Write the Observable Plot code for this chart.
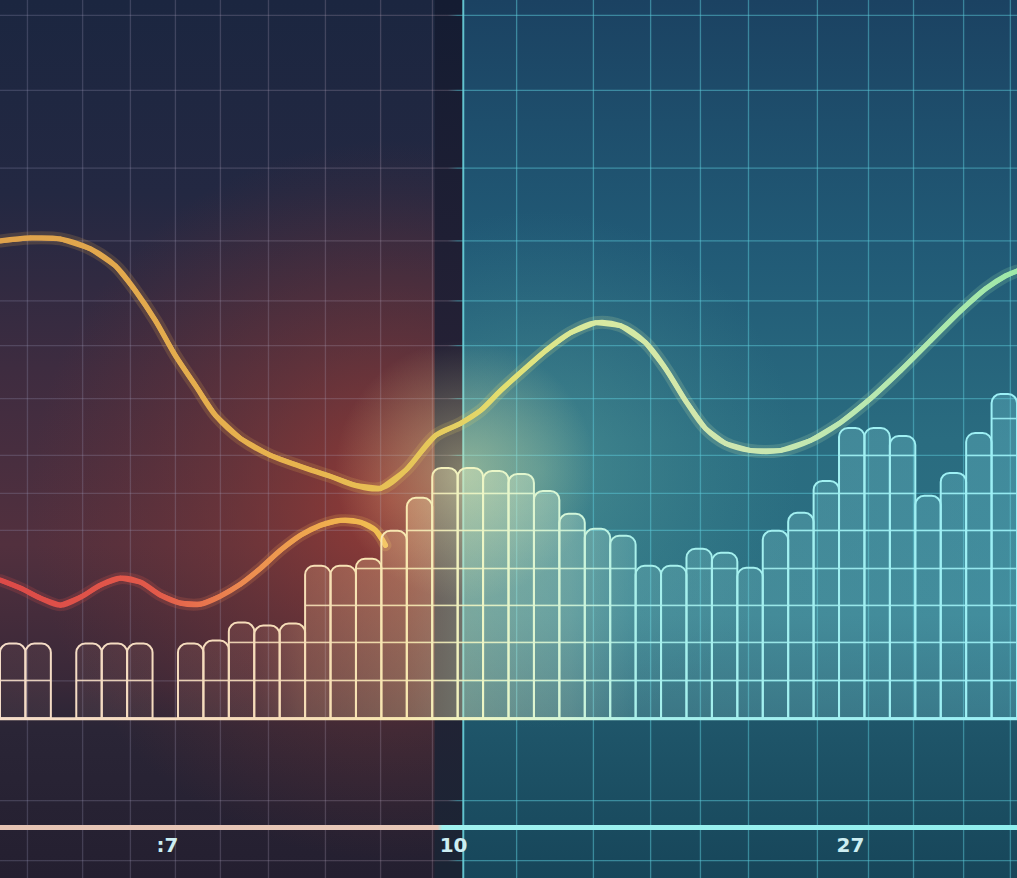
<!DOCTYPE html>
<html>
<head>
<meta charset="utf-8">
<script src="https://cdn.jsdelivr.net/npm/d3@7"></script>
<script src="https://cdn.jsdelivr.net/npm/@observablehq/plot@0.6"></script>
<style>
  html, body { margin: 0; padding: 0; background: #1a2636; overflow: hidden; }
  #chart svg { display: block; }
  g[aria-label="glow-bars"] { filter: drop-shadow(0 0 3px rgba(255,245,215,0.85)); }
  g[aria-label="glow-axis"] { filter: drop-shadow(0 0 4px rgba(160,240,240,0.6)); }
  g[aria-label="glow-labels"] { filter: drop-shadow(0 0 3px rgba(120,240,240,0.7)); }
</style>
</head>
<body>
<div id="chart"></div>
<script>
// ---------- data ----------
// bars: one value per slot (null = empty slot)
const barValues = [7.5, 7.5, null, 7.5, 7.5, 7.5, null, 7.5, 7.8, 9.6,
                   9.3, 9.5, 15.3, 15.3, 16.0, 18.8, 22.1, 25.1, 25.1, 24.8,
                   24.5, 22.8, 20.5, 19.0, 18.3, 15.3, 15.3, 17.0, 16.6, 15.1,
                   18.8, 20.6, 23.8, 29.1, 29.1, 28.3, 22.3, 24.6, 28.6, 32.5];
// upper curve
const upperX = [0, 1.18, 2.36, 3.54, 4.52, 5.31, 6.10, 6.88, 7.67, 8.46, 9.44, 10.62, 11.80, 12.98, 13.96,
                14.95, 15.93, 17.11, 18.09, 18.88, 19.67, 20.45, 21.44, 22.42, 23.40, 24.39, 25.37, 26.16,
                26.94, 27.73, 28.52, 29.50, 30.68, 31.86, 33.04, 34.22, 35.40, 36.58, 37.76, 38.74, 39.53, 40];
const upperY = [47.9, 48.2, 48.1, 47.1, 45.4, 42.9, 39.9, 36.4, 33.4, 30.4, 28.1, 26.4, 25.3, 24.3, 23.4,
                23.1, 24.9, 28.4, 29.6, 30.9, 32.9, 34.7, 36.9, 38.7, 39.7, 39.4, 37.7, 35.1,
                31.9, 29.1, 27.6, 26.9, 26.9, 27.9, 29.7, 32.1, 34.9, 37.9, 40.9, 43.1, 44.4, 44.9];
// lower curve
const lowerX = [0, 0.79, 1.57, 2.36, 3.15, 3.93, 4.72, 5.51, 6.29, 7.08, 7.87, 8.65, 9.44, 10.23,
                11.01, 11.80, 12.59, 13.37, 14.16, 14.75, 15.14];
const lowerY = [13.9, 13.1, 12.1, 11.4, 12.2, 13.4, 14.1, 13.7, 12.4, 11.6, 11.5, 12.3, 13.5, 15.1,
                16.9, 18.4, 19.4, 19.9, 19.7, 18.9, 17.4];
// tick labels
const tickValues = [6.57, 17.82, 33.43];
const tickLabels = [":7", "10", "27"];
// grid
const gridX = [1.06, 3.23, 5.11, 6.88, 8.65, 10.54, 12.78, 14.95, 16.99, 18.21, 20.30, 23.32,
               25.57, 27.53, 29.42, 32.13, 34.14, 35.91, 37.88, 39.72];
const gridY = [70.5, 63.0, 55.2, 47.9, 41.9, 37.4, 32.1, 26.4, 22.6, 18.9, 3.8, -8.2, -14.2];
const barGridLevels = [3.85, 7.66, 11.37, 15.07, 18.88, 22.59, 26.4, 30.1];
// frame / annotations
const xDomain = [0, 40];
const yDomain = [-16, 72];
const splitStart = 17.1;   // start of dark band
const splitEnd = 18.2;     // start of right panel
const axisLevel = -10.9;
const labelLevel = -12.7;

// ---------- derived tables ----------
const bars = barValues.map((v, i) => ({i, v})).filter(d => d.v != null);
const upper = upperX.map((x, i) => ({x, y: upperY[i]}));
const lower = lowerX.map((x, i) => ({x, y: lowerY[i]}));
const barRules = bars.flatMap(d => barGridLevels.filter(l => l < d.v - 0.6).map(l => ({x1: d.i, x2: d.i + 1, y: l})));
const ticks = tickValues.map((x, i) => ({x, label: tickLabels[i]}));

const W = 1017, H = 878;

function defs() {
  const g = document.createElementNS("http://www.w3.org/2000/svg", "g");
  g.innerHTML = `
  <defs>
    <linearGradient id="bgLeft" x1="0" y1="0" x2="0" y2="1">
      <stop offset="0" stop-color="#1b2640"/>
      <stop offset="0.22" stop-color="#232842"/>
      <stop offset="0.42" stop-color="#3e2c40"/>
      <stop offset="0.62" stop-color="#52303e"/>
      <stop offset="0.78" stop-color="#382838"/>
      <stop offset="0.83" stop-color="#2a2536"/>
      <stop offset="1" stop-color="#241f30"/>
    </linearGradient>
    <radialGradient id="redGlow" gradientUnits="userSpaceOnUse" cx="390" cy="500" r="360">
      <stop offset="0" stop-color="rgb(165,62,52)" stop-opacity="0.8"/>
      <stop offset="0.45" stop-color="rgb(140,58,52)" stop-opacity="0.42"/>
      <stop offset="1" stop-color="rgb(120,50,50)" stop-opacity="0"/>
    </radialGradient>
    <linearGradient id="bgBand" x1="0" y1="0" x2="0" y2="1">
      <stop offset="0" stop-color="#141c32"/>
      <stop offset="0.55" stop-color="#2a2236"/>
      <stop offset="1" stop-color="#1a2434"/>
    </linearGradient>
    <linearGradient id="bgRight" x1="0" y1="0" x2="0" y2="1">
      <stop offset="0" stop-color="#1b4262"/>
      <stop offset="0.28" stop-color="#215a76"/>
      <stop offset="0.5" stop-color="#2a6c80"/>
      <stop offset="0.7" stop-color="#2b7082"/>
      <stop offset="0.82" stop-color="#1f566a"/>
      <stop offset="1" stop-color="#17465a"/>
    </linearGradient>
    <radialGradient id="tealGlow" gradientUnits="userSpaceOnUse" cx="540" cy="470" r="260">
      <stop offset="0" stop-color="rgb(120,190,170)" stop-opacity="0.35"/>
      <stop offset="1" stop-color="rgb(80,160,160)" stop-opacity="0"/>
    </radialGradient>
    <radialGradient id="midGlow" gradientUnits="userSpaceOnUse" cx="465" cy="470" r="130">
      <stop offset="0" stop-color="rgb(240,240,170)" stop-opacity="0.45"/>
      <stop offset="1" stop-color="rgb(240,240,170)" stop-opacity="0"/>
    </radialGradient>
    <linearGradient id="gridStroke" gradientUnits="userSpaceOnUse" x1="0" y1="0" x2="${W}" y2="0">
      <stop offset="0" stop-color="rgb(150,150,185)" stop-opacity="0.26"/>
      <stop offset="0.44" stop-color="rgb(170,150,170)" stop-opacity="0.28"/>
      <stop offset="0.45" stop-color="rgb(90,200,215)" stop-opacity="0.52"/>
      <stop offset="1" stop-color="rgb(90,200,215)" stop-opacity="0.48"/>
    </linearGradient>
    <linearGradient id="barStroke" gradientUnits="userSpaceOnUse" x1="0" y1="0" x2="${W}" y2="0">
      <stop offset="0" stop-color="#f4dcc8"/>
      <stop offset="0.28" stop-color="#f6dcb8"/>
      <stop offset="0.4" stop-color="#f8e8b0"/>
      <stop offset="0.47" stop-color="#eef6c4"/>
      <stop offset="0.56" stop-color="#d4f6d8"/>
      <stop offset="0.63" stop-color="#a6f0ec"/>
      <stop offset="1" stop-color="#9cf0f6"/>
    </linearGradient>
    <linearGradient id="barFill" gradientUnits="userSpaceOnUse" x1="0" y1="0" x2="${W}" y2="0">
      <stop offset="0" stop-color="rgb(255,200,180)" stop-opacity="0.06"/>
      <stop offset="0.25" stop-color="rgb(255,190,160)" stop-opacity="0.1"/>
      <stop offset="0.3" stop-color="rgb(255,200,150)" stop-opacity="0.22"/>
      <stop offset="0.4" stop-color="rgb(255,220,160)" stop-opacity="0.3"/>
      <stop offset="0.46" stop-color="rgb(240,245,195)" stop-opacity="0.38"/>
      <stop offset="0.56" stop-color="rgb(215,245,215)" stop-opacity="0.32"/>
      <stop offset="0.63" stop-color="rgb(160,230,225)" stop-opacity="0.22"/>
      <stop offset="1" stop-color="rgb(130,225,235)" stop-opacity="0.26"/>
    </linearGradient>
    <linearGradient id="upperStroke" gradientUnits="userSpaceOnUse" x1="0" y1="0" x2="${W}" y2="0">
      <stop offset="0" stop-color="#dfa24c"/>
      <stop offset="0.3" stop-color="#e8b44e"/>
      <stop offset="0.42" stop-color="#e6c85a"/>
      <stop offset="0.5" stop-color="#e2e072"/>
      <stop offset="0.58" stop-color="#d8eaa0"/>
      <stop offset="0.72" stop-color="#cfe6b0"/>
      <stop offset="0.86" stop-color="#b8e8b0"/>
      <stop offset="1" stop-color="#9ee8a8"/>
    </linearGradient>
    <linearGradient id="lowerStroke" gradientUnits="userSpaceOnUse" x1="0" y1="0" x2="390" y2="0">
      <stop offset="0" stop-color="#dc4a48"/>
      <stop offset="0.4" stop-color="#e25a4a"/>
      <stop offset="0.62" stop-color="#ec8a50"/>
      <stop offset="0.85" stop-color="#f0b04e"/>
      <stop offset="1" stop-color="#f0c252"/>
    </linearGradient>
    <linearGradient id="axisStroke" gradientUnits="userSpaceOnUse" x1="0" y1="0" x2="${W}" y2="0">
      <stop offset="0" stop-color="#e6c4b4"/>
      <stop offset="0.43" stop-color="#e8c8b8"/>
      <stop offset="0.435" stop-color="#a0f2f0"/>
      <stop offset="1" stop-color="#90eeee"/>
    </linearGradient>
    <linearGradient id="labelFill" gradientUnits="userSpaceOnUse" x1="0" y1="0" x2="${W}" y2="0">
      <stop offset="0" stop-color="#cdeef2"/>
      <stop offset="0.3" stop-color="#c4eef0"/>
      <stop offset="0.42" stop-color="#96f0f0"/>
      <stop offset="1" stop-color="#74e2ea"/>
    </linearGradient>
  </defs>`;
  return g;
}

// colour ramps along the two curves (fallback segment colouring)
const upperColor = d3.scaleLinear().domain([0, 12, 16.8, 20, 23.2, 28.8, 34.4, 40])
  .range(["#dfa24c", "#e8b44e", "#e6c85a", "#e2e072", "#d8eaa0", "#cfe6b0", "#b8e8b0", "#9ee8a8"]);
const lowerColor = d3.scaleLinear().domain([0, 6.1, 9.5, 13, 15.3])
  .range(["#dc4a48", "#e25a4a", "#ec8a50", "#f0b04e", "#f0c252"]);

const chart = Plot.plot({
  width: W,
  height: H,
  margin: 0,
  x: {domain: xDomain, axis: null},
  y: {domain: yDomain, axis: null},
  color: {type: "identity"},
  style: {background: "transparent", overflow: "visible"},
  marks: [
    defs,
    // panels
    Plot.rect([0], {x1: xDomain[0], x2: splitStart, y1: yDomain[0], y2: yDomain[1], fill: "url(#bgLeft)"}),
    Plot.rect([0], {x1: xDomain[0], x2: splitStart, y1: yDomain[0], y2: yDomain[1], fill: "url(#redGlow)"}),
    Plot.rect([0], {x1: splitStart, x2: splitEnd, y1: yDomain[0], y2: yDomain[1], fill: "url(#bgBand)"}),
    Plot.rect([0], {x1: splitEnd, x2: xDomain[1], y1: yDomain[0], y2: yDomain[1], fill: "url(#bgRight)"}),
    Plot.rect([0], {x1: splitEnd, x2: xDomain[1], y1: yDomain[0], y2: yDomain[1], fill: "url(#tealGlow)"}),
    // grid
    Plot.ruleX(gridX, {y1: yDomain[0], y2: yDomain[1], stroke: "url(#gridStroke)", strokeWidth: 1.3}),
    Plot.ruleY(gridY, {x1: xDomain[0], x2: xDomain[1], stroke: "url(#gridStroke)", strokeWidth: 1.3}),
    Plot.ruleX([splitEnd], {y1: yDomain[0], y2: yDomain[1], stroke: "#6fd6de", strokeOpacity: 0.75, strokeWidth: 2}),
    Plot.rect([0], {x1: xDomain[0], x2: xDomain[1], y1: yDomain[0], y2: yDomain[1], fill: "url(#midGlow)"}),
    // lower curve
    Plot.line(lower, {x: "x", y: "y", z: null, curve: "catmull-rom", stroke: d => lowerColor(d.x), strokeWidth: 4.6}),
    Plot.line(lower, {x: "x", y: "y", curve: "catmull-rom", stroke: "url(#lowerStroke)", strokeWidth: 12, strokeOpacity: 0.2}),
    Plot.line(lower, {x: "x", y: "y", curve: "catmull-rom", stroke: "url(#lowerStroke)", strokeWidth: 5.2, strokeLinecap: "round"}),
    // bars
    Plot.rectY(bars, {x1: "i", x2: d => d.i + 1, y1: 0, y2: "v", fill: "url(#barFill)", stroke: "url(#barStroke)", strokeWidth: 2, ry2: 9, ariaLabel: "glow-bars"}),
    Plot.ruleY(barRules, {x1: "x1", x2: "x2", y: "y", stroke: "url(#barStroke)", strokeWidth: 1.6, strokeOpacity: 0.9, ariaLabel: "glow-bars"}),
    Plot.ruleY([0], {x1: xDomain[0], x2: xDomain[1], stroke: "url(#barStroke)", strokeWidth: 3, ariaLabel: "glow-bars"}),
    // upper curve
    Plot.line(upper, {x: "x", y: "y", z: null, curve: "catmull-rom", stroke: d => upperColor(d.x), strokeWidth: 4.6}),
    Plot.line(upper, {x: "x", y: "y", curve: "catmull-rom", stroke: "url(#upperStroke)", strokeWidth: 13, strokeOpacity: 0.18}),
    Plot.line(upper, {x: "x", y: "y", curve: "catmull-rom", stroke: "url(#upperStroke)", strokeWidth: 5.2, strokeLinecap: "round"}),
    // axis
    Plot.ruleY([axisLevel], {x1: xDomain[0], x2: xDomain[1], stroke: "url(#axisStroke)", strokeWidth: 5, ariaLabel: "glow-axis"}),
    Plot.text(ticks, {x: "x", y: labelLevel, text: "label", fill: "url(#labelFill)", fontSize: 20, fontWeight: "bold", fontFamily: "DejaVu Sans", ariaLabel: "glow-labels"})
  ]
});
document.getElementById("chart").appendChild(chart);
</script>
</body>
</html>
